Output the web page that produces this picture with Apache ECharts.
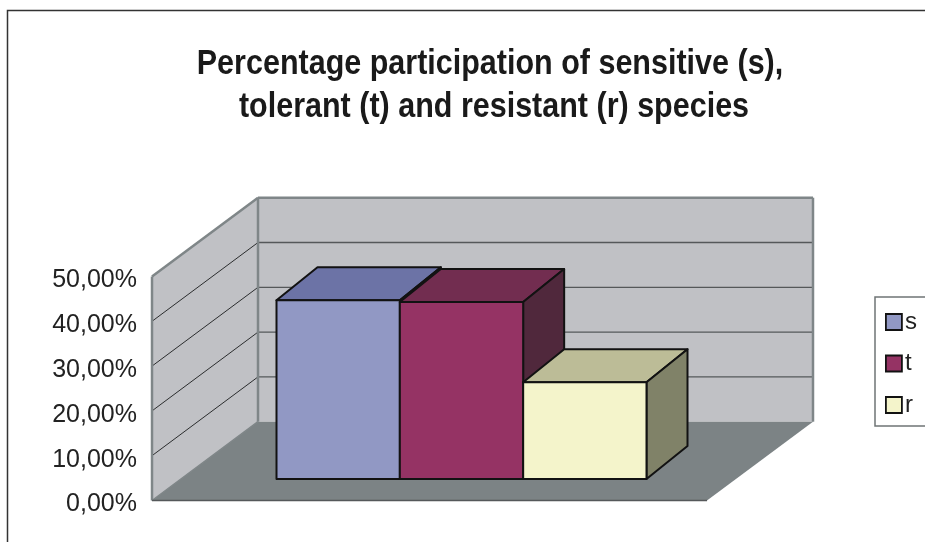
<!DOCTYPE html>
<html><head><meta charset="utf-8">
<style>html,body{margin:0;padding:0;background:#fff}#c{width:925px;height:542px}</style>
<script src="https://cdn.jsdelivr.net/npm/echarts@6/dist/echarts.min.js"></script>
</head><body><div id="c"></div>
<script>
const categories = [''];
const sValues = [39.9];
const tValues = [39.5];
const rValues = [21.6];
const yTicks = [0, 10, 20, 30, 40, 50];
const seriesNames = ['s', 't', 'r'];
const titleLines = ['Percentage participation of sensitive (s),', 'tolerant (t) and resistant (r) species'];

const FONT = '"Liberation Sans", Arial, sans-serif';
const WALL = [106, -78.8];       // full depth of the 3D box
const BAR_FRONT = [32, -21.5];   // depth of bar front face
const BAR_DEPTH = [41, -33];     // depth of the bar itself
const GAP = 4.5;                 // plot band width in bar widths
const faces = [
  {front:'#9198c4', top:'#6c73a6', side:'#4f5580'},
  {front:'#953364', top:'#722d50', side:'#50283c'},
  {front:'#f4f4cb', top:'#bcbc97', side:'#808268'}
];
const EDGE = '#121212';

const poly = (pts, fill, stroke, lw) => ({
  type:'polygon', shape:{points:pts},
  style:{fill, stroke:stroke||'none', lineWidth:lw||0, lineJoin:'round'}
});
const seg = (a, b, stroke, lw) => ({
  type:'line', shape:{x1:a[0],y1:a[1],x2:b[0],y2:b[1]},
  style:{stroke, lineWidth:lw}
});
const add = (p, o) => [p[0]+o[0], p[1]+o[1]];

function renderWalls(params, api) {
  const cs = params.coordSys;
  const y = v => api.coord([0, v])[1];
  const L = cs.x, R = cs.x + cs.width;
  const y0 = y(yTicks[0]), yTop = y(yTicks[yTicks.length-1]);
  const ch = [];
  ch.push(poly([add([L,yTop],WALL),add([R,yTop],WALL),add([R,y0],WALL),add([L,y0],WALL)],'#c0c1c5'));
  ch.push(poly([[L,y0],[L,yTop],add([L,yTop],WALL),add([L,y0],WALL)],'#c0c1c5'));
  ch.push(poly([[L,y0],[R,y0],add([R,y0],WALL),add([L,y0],WALL)],'#7c8385'));
  yTicks.slice(1,-1).forEach(v => {
    const p = [L, y(v)];
    ch.push(seg(p, add(p,WALL), '#2b2d2e', 1));
    ch.push(seg(add(p,WALL), add([R,y(v)],WALL), '#55585a', 1.3));
  });
  const w = '#7f8688';
  ch.push(seg(add([L,yTop],WALL), add([R,yTop],WALL), w, 2.5));
  ch.push(seg(add([R,yTop],WALL), add([R,y0],WALL), w, 2.5));
  ch.push(seg(add([L,yTop],WALL), add([L,y0],WALL), w, 2.5));
  ch.push(seg([L,yTop],add([L,yTop],WALL), w, 2.5));
  ch.push(seg([L,yTop],[L,y0], w, 2.5));
  ch.push(seg([L,y0],add([L,y0],WALL), w, 1.5));
  ch.push(seg([L,y0],[R,y0], '#55585a', 1.5));
  return {type:'group', children:ch};
}

function barRenderer(index) {
  return function (params, api) {
    const band = api.size([1,0])[0];
    const bw = band / GAP;
    const c = api.coord([api.value(0), api.value(1)]);
    const b = api.coord([api.value(0), 0]);
    const x0 = c[0] - band/2 + bw * (0.75 + index);
    const A = add([x0, b[1]], BAR_FRONT);
    const B = add([x0 + bw, b[1]], BAR_FRONT);
    const C = add([x0 + bw, c[1]], BAR_FRONT);
    const D = add([x0, c[1]], BAR_FRONT);
    const f = faces[index];
    return {type:'group', children:[
      poly([D, C, add(C,BAR_DEPTH), add(D,BAR_DEPTH)], f.top, EDGE, 2),
      poly([B, add(B,BAR_DEPTH), add(C,BAR_DEPTH), C], f.side, EDGE, 2),
      poly([A, B, C, D], f.front, EDGE, 2)
    ]};
  };
}

const allValues = [sValues, tValues, rValues];
const toData = arr => categories.map((c,i)=>[i, arr[i]]);

const chart = echarts.init(document.getElementById('c'), null, {renderer:'canvas'});
chart.setOption({
  animation:false,
  backgroundColor:'#fff',
  grid:{left:152, top:276.5, width:555, height:224, containLabel:false},
  xAxis:{type:'category', data:categories, axisLine:{show:false}, axisTick:{show:false}, axisLabel:{show:false}},
  yAxis:{type:'value', min:0, max:50, interval:10,
    axisLine:{show:false}, axisTick:{show:false}, splitLine:{show:false},
    axisLabel:{margin:15, fontFamily:FONT, fontSize:25, color:'#222', verticalAlign:'top', lineHeight:8,
      formatter:v=>v.toFixed(2).replace('.',',')+'%'}},
  legend:{
    orient:'vertical', left:875, top:297, padding:[13,40,9,10],
    itemWidth:16, itemHeight:16, itemGap:17.5, icon:'rect',
    borderColor:'#6f7475', borderWidth:1.5, backgroundColor:'#fff', borderRadius:0,
    textStyle:{fontFamily:FONT, fontSize:24, color:'#222', padding:[0,0,0,-2]},
    data:seriesNames.map((n,i)=>({name:n, itemStyle:{color:faces[i].front, borderColor:EDGE, borderWidth:1.8}}))
  },
  graphic:[
    {type:'polyline', silent:true, shape:{points:[[7.5,542],[7.5,10.5],[925,10.5]]}, style:{stroke:'#333',lineWidth:1.5,fill:'none'}},
    {type:'text', silent:true, x:490, y:64, scaleY:1.14,
      style:{text:titleLines[0], font:'bold 30.5px "Liberation Sans", Arial, sans-serif', fill:'#1a1a1a', textAlign:'center', textVerticalAlign:'middle'}},
    {type:'text', silent:true, x:494, y:107, scaleY:1.14,
      style:{text:titleLines[1], font:'bold 30.5px "Liberation Sans", Arial, sans-serif', fill:'#1a1a1a', textAlign:'center', textVerticalAlign:'middle'}}
  ],
  series:[
    {type:'custom', name:'walls', silent:true, z:1, clip:false, renderItem:renderWalls, data:[[0,0]], encode:{x:0,y:1}},
    ...seriesNames.map((n,i)=>({
      type:'custom', name:n, z:2+i, clip:false, renderItem:barRenderer(i),
      itemStyle:{color:faces[i].front}, data:toData(allValues[i]), encode:{x:0,y:1}
    }))
  ]
});
</script></body></html>
